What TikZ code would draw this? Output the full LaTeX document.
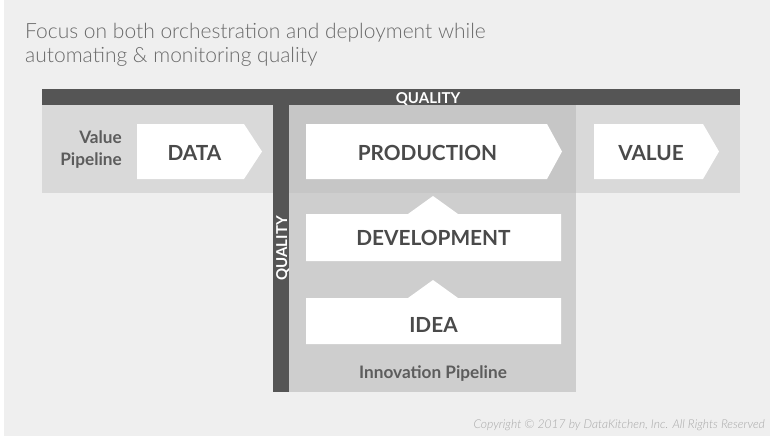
\documentclass[tikz,border=0pt]{standalone}
\usepackage{fontspec}
\setmainfont{Lato}
\newfontfamily\latolight{Lato Light}
\newfontfamily\latobold{Lato Bold}
\definecolor{bg}{HTML}{EFEFEF}
\definecolor{darkbar}{HTML}{555555}
\definecolor{band}{HTML}{D9D9D9}
\definecolor{innov}{HTML}{CECECE}
\definecolor{overlap}{HTML}{C6C6C6}
\definecolor{txt}{HTML}{4A4A4A}
\definecolor{title}{HTML}{6A6A6A}
\definecolor{copy}{HTML}{A8A8A8}
\tikzset{
  stage/.style={fill=white, draw=none},
  big/.style={font=\latobold\fontsize{20.8}{25}\selectfont, text=txt, anchor=base, inner sep=0pt},
  mid/.style={font=\latobold\fontsize{17.2}{20}\selectfont, text=txt!90, anchor=base, inner sep=0pt},
  qual/.style={font=\latobold\fontsize{15}{18}\selectfont, text=white, anchor=base, inner sep=0pt},
  titletext/.style={anchor=base west, inner sep=0pt, text=title, font=\latolight\fontsize{21}{25}\selectfont},
}
\begin{document}
\begin{tikzpicture}[x=1pt,y=-1pt]
\useasboundingbox (0,0) rectangle (770,436);
\fill[white] (0,0) rectangle (770,436);
\fill[bg] (4,0) rectangle (770,436);
% value pipeline band
\fill[band] (42,105) rectangle (740,193);
% innovation region
\fill[innov] (289,105) rectangle (576,392);
\fill[overlap] (289,105) rectangle (576,193);
% quality bars
\fill[darkbar] (42,89) rectangle (740,105);
\fill[darkbar] (273,89) rectangle (289,392);
% stages
\fill[stage] (137,124) -- (244,124) -- (262,151.5) -- (244,179) -- (137,179) -- cycle;
\fill[stage] (306,124) -- (547,124) -- (562,151.5) -- (547,179) -- (306,179) -- cycle;
\fill[stage] (594,124) -- (703,124) -- (719,151.5) -- (703,179) -- (594,179) -- cycle;
\fill[stage] (306,214) -- (408,214) -- (433,196) -- (458,214) -- (561,214) -- (561,261) -- (306,261) -- cycle;
\fill[stage] (306,298) -- (408,298) -- (433,280) -- (458,298) -- (561,298) -- (561,344) -- (306,344) -- cycle;
% texts
\node[titletext] (t1) at (25,39) {Focus on both orchestration and deployment while};
\node[titletext] (t2) at (25,63) {automating \& monitoring quality};
\node[qual] (q1) at (428,103) {QUALITY};
\node[qual, rotate=90] (q2) at (287,248.5) {QUALITY};
\node[mid, anchor=base east] (vp1) at (122,143) {Value};
\node[mid, anchor=base east] (vp2) at (122,165) {Pipeline};
\node[big] (data) at (194.5,160) {DATA};
\node[big] (prod) at (427.5,160) {PRODUCTION};
\node[big] (val) at (651,160) {VALUE};
\node[big] (dev) at (433.5,245) {DEVELOPMENT};
\node[big] (idea) at (433.5,332) {IDEA};
\node[mid] (ip) at (433,378) {Innovation Pipeline};
\node[anchor=base east, inner sep=0pt, text=copy, font=\latolight\itshape\fontsize{12.1}{14}\selectfont] (cr) at (765,428) {Copyright © 2017 by DataKitchen, Inc. All Rights Reserved};
\end{tikzpicture}
\end{document}
